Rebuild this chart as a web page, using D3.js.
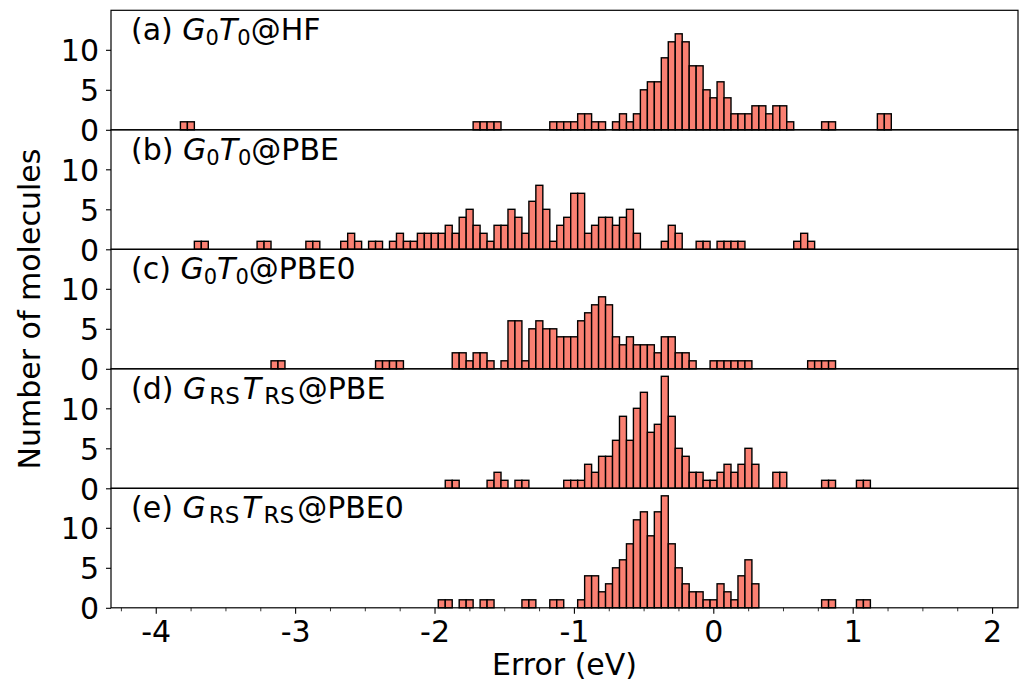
<!DOCTYPE html>
<html>
<head>
<meta charset="utf-8">
<script src="https://cdn.jsdelivr.net/npm/d3@7"></script>
<style>
  body { margin: 0; background: white; }
  text { font-family: "DejaVu Sans", sans-serif; fill: black; }
</style>
</head>
<body>
<div id="container"></div>
<script>
/* DATA: histogram counts, bin width 0.05 eV, runs of consecutive bins (left edge in eV) */
const binWidth = 0.05;

const hfRuns = [
  { start: -3.823, counts: [1, 1] },
  { start: -1.723, counts: [1, 1, 1, 1] },
  { start: -1.173, counts: [1, 1, 1, 1, 2, 2, 1, 1, 0, 1, 2, 1, 2, 5, 6, 6, 9, 11, 12, 11, 8, 8, 5, 4, 6, 4, 2, 2, 2, 3, 3, 2, 3, 3, 1] },
  { start: 0.777, counts: [1, 1] },
  { start: 1.177, counts: [2, 2] }
];

const pbeRuns = [
  { start: -3.723, counts: [1, 1] },
  { start: -3.273, counts: [1, 1] },
  { start: -2.923, counts: [1, 1] },
  { start: -2.673, counts: [1, 2, 1] },
  { start: -2.473, counts: [1, 1] },
  { start: -2.323, counts: [1, 2, 1, 1, 2, 2, 2, 2, 3, 2, 4, 5, 3, 2, 1, 3, 3, 5, 4, 2, 6, 8, 5, 1, 3, 4, 7, 7, 2, 3, 4, 4, 3, 4, 5, 2] },
  { start: -0.373, counts: [1, 3, 2] },
  { start: -0.123, counts: [1, 1] },
  { start: 0.027, counts: [1, 1, 1, 1] },
  { start: 0.577, counts: [1, 2, 1] }
];

const pbe0Runs = [
  { start: -3.173, counts: [1, 1] },
  { start: -2.423, counts: [1, 1, 1, 1] },
  { start: -1.873, counts: [2, 2, 1, 2, 2, 1, 0, 1, 6, 6, 1, 5, 6, 5, 5, 4, 4, 4, 6, 7, 8, 9, 8, 4, 3, 4, 3, 3, 3, 2, 4, 4, 2, 2, 1] },
  { start: -0.023, counts: [1, 1, 1, 1, 1, 1] },
  { start: 0.677, counts: [1, 1, 1, 1] }
];

const rsPbeRuns = [
  { start: -1.923, counts: [1, 1] },
  { start: -1.623, counts: [1, 2, 1] },
  { start: -1.423, counts: [1, 1] },
  { start: -1.073, counts: [1, 1, 1, 3, 2, 4, 4, 6, 9, 6, 10, 12, 7, 8, 14, 9, 5, 4, 2, 2, 1, 1, 2, 3, 2, 3, 5, 3] },
  { start: 0.427, counts: [2, 2] },
  { start: 0.777, counts: [1, 1] },
  { start: 1.027, counts: [1, 1] }
];

const rsPbe0Runs = [
  { start: -1.973, counts: [1, 1] },
  { start: -1.823, counts: [1, 1] },
  { start: -1.673, counts: [1, 1] },
  { start: -1.373, counts: [1, 1] },
  { start: -1.173, counts: [1, 1] },
  { start: -0.973, counts: [1, 4, 4, 2, 3, 5, 6, 8, 11, 12, 9, 12, 14, 8, 5, 3, 2, 2, 1, 1, 3, 2, 1, 4, 6, 3] },
  { start: 0.777, counts: [1, 1] },
  { start: 1.027, counts: [1, 1] }
];

const panelTags = ["(a)", "(b)", "(c)", "(d)", "(e)"];
const panelSub = ["0", "0", "0", "RS", "RS"];
const panelRef = ["@HF", "@PBE", "@PBE0", "@PBE", "@PBE0"];
const panelRuns = [hfRuns, pbeRuns, pbe0Runs, rsPbeRuns, rsPbe0Runs];

const yTicks = [0, 5, 10];
const xTicks = [-4, -3, -2, -1, 0, 1, 2];

/* LAYOUT */
const width = 1020, height = 683;
const plotLeft = 111, plotRight = 1018, plotTop = 10.3, panelH = 119.5;
const fontSize = 30;

const svg = d3.select("#container").append("svg")
  .attr("width", width)
  .attr("height", height);

const xScale = d3.scaleLinear()
  .domain([-4.321, 2.186])
  .range([plotLeft, plotRight]);

panelRuns.forEach((runs, p) => {
  const top = plotTop + p * panelH;
  const yScale = d3.scaleLinear()
    .domain([0, 14.94])
    .range([top + panelH, top]);

  // flatten runs into bins
  const bins = [];
  runs.forEach(r => {
    r.counts.forEach((c, i) => {
      if (c > 0) bins.push({ x0: r.start + i * binWidth, x1: r.start + (i + 1) * binWidth, n: c });
    });
  });

  const g = svg.append("g");

  g.selectAll("rect.bar")
    .data(bins)
    .enter()
    .append("rect")
    .attr("class", "bar")
    .attr("x", d => xScale(d.x0))
    .attr("width", d => xScale(d.x1) - xScale(d.x0))
    .attr("y", d => yScale(d.n))
    .attr("height", d => yScale(0) - yScale(d.n))
    .style("fill", "#fa8072")
    .style("stroke", "black")
    .style("stroke-width", 1.4);

  // frame
  g.append("rect")
    .attr("x", plotLeft)
    .attr("y", top)
    .attr("width", plotRight - plotLeft)
    .attr("height", panelH)
    .style("fill", "none")
    .style("stroke", "black")
    .style("stroke-width", 1.2);

  // y axis
  const yAxis = d3.axisLeft(yScale).tickValues(yTicks).tickSize(5).tickPadding(7);
  const ya = g.append("g")
    .attr("transform", `translate(${plotLeft},0)`)
    .call(yAxis);
  ya.select(".domain").remove();
  ya.selectAll("text").style("font-size", fontSize + "px").attr("dy", "0.36em");
  ya.selectAll("line").style("stroke", "black").style("stroke-width", 1.1);

  // panel label, G_x T_x @method
  const rs = panelSub[p] === "RS";
  const subSize = rs ? 23 : 21;
  const gap = rs ? 3 : 0;
  const lab = g.append("text")
    .attr("x", 131)
    .attr("y", top + 30)
    .style("font-size", fontSize + "px");
  lab.append("tspan").text(panelTags[p] + " ");
  lab.append("tspan").style("font-style", "italic").text("G");
  lab.append("tspan").attr("dy", 5).attr("dx", gap).style("font-size", subSize + "px").text(panelSub[p]);
  lab.append("tspan").attr("dy", -5).attr("dx", gap).style("font-style", "italic").text("T");
  lab.append("tspan").attr("dy", 5).attr("dx", gap).style("font-size", subSize + "px").text(panelSub[p]);
  lab.append("tspan").attr("dy", -5).attr("dx", gap).text(panelRef[p]);

  // x axis on bottom panel only
  if (p === panelRuns.length - 1) {
    const base = top + panelH;
    const minor = d3.range(-4.25, 2.2, 0.25).filter(v => Math.abs(v - Math.round(v)) > 0.01);
    const xMinor = d3.axisBottom(xScale).tickValues(minor).tickSize(3.5).tickFormat("");
    const xm = g.append("g").attr("transform", `translate(0,${base})`).call(xMinor);
    xm.select(".domain").remove();
    xm.selectAll("line").style("stroke", "black").style("stroke-width", 0.8);

    const xAxis = d3.axisBottom(xScale).tickValues(xTicks).tickSize(6).tickPadding(7)
      .tickFormat(d => String(d));
    const xa = g.append("g").attr("transform", `translate(0,${base})`).call(xAxis);
    xa.select(".domain").remove();
    xa.selectAll("text").style("font-size", fontSize + "px");
    xa.selectAll("line").style("stroke", "black").style("stroke-width", 1.1);
  }
});

// axis titles
svg.append("text")
  .attr("x", (plotLeft + plotRight) / 2)
  .attr("y", 675)
  .attr("text-anchor", "middle")
  .style("font-size", fontSize + "px")
  .text("Error (eV)");

svg.append("text")
  .attr("transform", `translate(40,${plotTop + panelH * 2.5}) rotate(-90)`)
  .attr("text-anchor", "middle")
  .style("font-size", fontSize + "px")
  .text("Number of molecules");
</script>
</body>
</html>
